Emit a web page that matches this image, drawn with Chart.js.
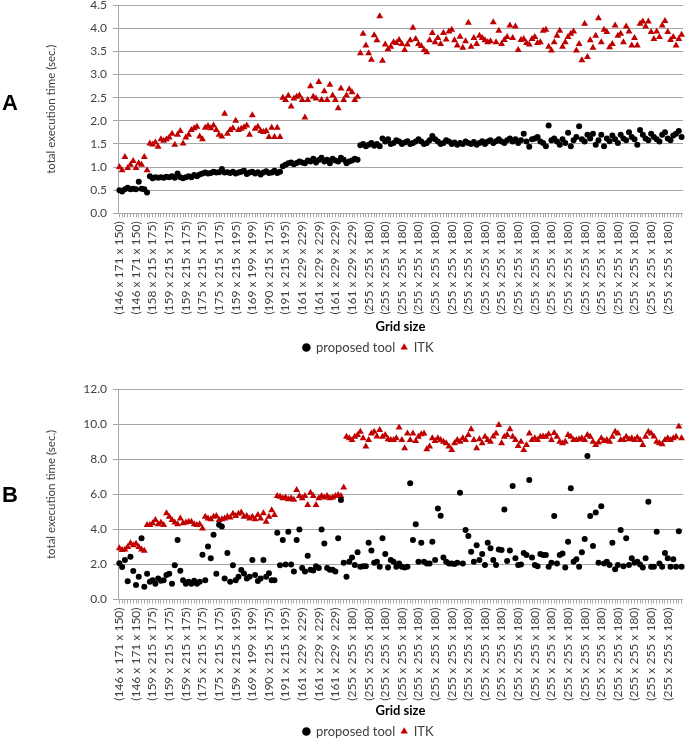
<!DOCTYPE html>
<html><head><meta charset="utf-8">
<script src="https://cdn.jsdelivr.net/npm/chart.js@4.4.1/dist/chart.umd.min.js"></script>
<style>
html,body{margin:0;padding:0;background:#fff;}
#wrap{position:relative;width:685px;height:739px;overflow:hidden;background:#fff;}
canvas{position:absolute;left:0;}
.panel{position:absolute;left:2px;font-family:"Liberation Sans",Arial,sans-serif;font-weight:bold;font-size:22px;line-height:22px;color:#000;z-index:2;}
</style></head><body>
<div id="wrap">
<canvas id="cA" width="700" height="376" style="top:-8px;width:700px;height:376px"></canvas>
<canvas id="cB" width="700" height="382" style="top:370px;width:700px;height:382px"></canvas>
<div class="panel" style="top:92px">A</div>
<div class="panel" style="top:484px">B</div>
</div>
<script>
// Tick labels (one label per group of 6 categories)
const gridLabelsA = [
 "(146 x 171 x 150)","(146 x 171 x 150)","(158 x 215 x 175)","(159 x 215 x 175)","(159 x 215 x 175)",
 "(175 x 215 x 175)","(175 x 215 x 175)","(159 x 215 x 195)","(169 x 199 x 199)","(190 x 215 x 175)",
 "(191 x 215 x 195)","(161 x 229 x 229)","(161 x 229 x 229)","(161 x 229 x 229)","(161 x 229 x 229)",
 "(255 x 255 x 180)","(255 x 255 x 180)","(255 x 255 x 180)","(255 x 255 x 180)","(255 x 255 x 180)",
 "(255 x 255 x 180)","(255 x 255 x 180)","(255 x 255 x 180)","(255 x 255 x 180)","(255 x 255 x 180)",
 "(255 x 255 x 180)","(255 x 255 x 180)","(255 x 255 x 180)","(255 x 255 x 180)","(255 x 255 x 180)",
 "(255 x 255 x 180)","(255 x 255 x 180)","(255 x 255 x 180)","(255 x 255 x 180)"
];
const gridLabelsB = [
 "(146 x 171 x 150)","(146 x 171 x 150)","(159 x 215 x 175)","(159 x 215 x 175)","(159 x 215 x 175)",
 "(175 x 215 x 175)","(175 x 215 x 175)","(159 x 215 x 195)","(169 x 199 x 199)","(190 x 215 x 175)",
 "(191 x 215 x 195)","(161 x 229 x 229)","(161 x 229 x 229)","(161 x 229 x 229)",
 "(255 x 255 x 180)","(255 x 255 x 180)","(255 x 255 x 180)","(255 x 255 x 180)","(255 x 255 x 180)",
 "(255 x 255 x 180)","(255 x 255 x 180)","(255 x 255 x 180)","(255 x 255 x 180)","(255 x 255 x 180)",
 "(255 x 255 x 180)","(255 x 255 x 180)","(255 x 255 x 180)","(255 x 255 x 180)","(255 x 255 x 180)",
 "(255 x 255 x 180)","(255 x 255 x 180)","(255 x 255 x 180)","(255 x 255 x 180)","(255 x 255 x 180)"
];
const labelEvery = 6;

// Panel A – proposed tool (sec.)
const proposedA = [
 0.50,0.47,0.52,0.55,0.52,0.53,0.52,0.68,0.53,0.52,0.45,
 0.80,0.76,0.78,0.77,0.78,0.77,0.79,0.78,0.80,0.77,0.86,0.78,0.76,0.78,0.80,0.78,0.83,0.80,0.84,0.86,
 0.88,0.86,0.87,0.90,0.88,0.89,0.96,0.88,0.89,0.87,0.90,0.86,0.88,0.90,0.92,0.85,0.88,0.90,0.86,0.89,
 0.84,0.88,0.91,0.87,0.88,0.92,0.87,0.90,
 1.02,1.05,1.08,1.10,1.06,1.09,1.12,1.10,1.08,1.14,1.12,1.18,1.10,1.15,1.20,1.12,1.16,1.08,1.18,1.14,
 1.12,1.20,1.16,1.08,1.12,1.14,1.18,1.16,
 1.47,1.50,1.45,1.48,1.52,1.46,1.50,1.45,1.62,1.55,1.60,1.50,1.52,1.58,1.55,1.50,1.53,1.56,1.50,1.52,
 1.55,1.60,1.55,1.50,1.52,1.58,1.67,1.60,1.55,1.50,1.52,1.58,1.55,1.50,1.53,1.48,1.52,1.50,1.55,1.52,
 1.50,1.54,1.48,1.52,1.56,1.50,1.55,1.58,1.52,1.56,1.60,1.55,1.52,1.58,1.62,1.55,1.60,1.52,1.58,1.72,
 1.55,1.44,1.60,1.62,1.65,1.55,1.52,1.45,1.90,1.58,1.62,1.55,1.48,1.60,1.52,1.74,1.45,1.58,1.65,1.88,
 1.60,1.55,1.70,1.62,1.72,1.48,1.58,1.70,1.45,1.62,1.56,1.68,1.60,1.52,1.70,1.62,1.58,1.75,1.65,1.60,
 1.48,1.80,1.70,1.62,1.58,1.72,1.65,1.60,1.55,1.70,1.75,1.62,1.58,1.68,1.72,1.78,1.65
];
// Panel A – ITK (sec.)
const itkA = [
 1.00,0.93,1.22,0.98,1.05,1.13,0.98,1.08,1.05,1.22,0.93,
 1.51,1.49,1.53,1.44,1.60,1.57,1.60,1.64,1.72,1.48,1.70,1.78,1.51,1.64,1.70,1.80,1.84,1.87,1.66,1.60,
 1.85,1.89,1.84,1.90,1.80,1.70,1.66,2.15,1.72,1.80,1.84,2.00,1.80,1.83,1.86,1.90,1.70,2.12,1.83,1.87,
 1.78,1.76,1.78,1.65,1.85,1.65,1.85,1.65,
 2.50,2.45,2.54,2.31,2.48,2.52,2.55,2.45,2.07,2.45,2.75,2.52,2.48,2.84,2.45,2.64,2.45,2.78,2.55,2.45,
 2.27,2.70,2.45,2.55,2.68,2.62,2.45,2.52,
 3.46,3.88,3.63,3.46,3.32,3.85,3.74,4.26,3.30,3.65,3.55,3.60,3.70,3.68,3.75,3.66,3.53,3.65,3.74,4.01,
 3.77,3.66,3.62,3.53,3.48,3.74,3.90,3.70,3.79,3.66,3.90,3.76,3.93,3.97,3.74,3.63,3.82,3.58,3.72,4.12,
 3.60,3.79,3.66,3.84,3.79,3.74,3.70,3.72,4.13,3.70,3.95,3.66,3.75,3.81,4.06,3.79,4.04,3.53,3.75,3.77,
 3.68,3.65,3.77,3.81,3.68,3.70,3.95,3.97,3.60,3.52,3.70,3.84,3.95,3.60,3.70,3.81,3.88,3.93,3.52,3.66,
 3.31,4.10,3.38,3.74,3.58,3.84,4.22,3.70,3.97,3.92,3.59,3.66,4.06,3.84,3.88,3.70,4.04,3.93,3.63,3.79,
 3.63,4.10,4.15,4.04,4.15,3.92,3.77,3.93,3.81,4.06,4.16,3.92,3.75,3.81,3.63,3.77,3.86
];
// Panel B – proposed tool (sec.)
const proposedB = [
 2.07,1.85,2.25,1.04,2.44,1.63,0.83,1.30,3.49,0.73,
 1.47,1.02,1.10,0.90,1.20,1.07,1.10,1.40,1.47,0.90,1.96,3.39,1.64,1.10,0.90,1.02,0.90,1.07,0.90,1.02,
 2.55,1.10,3.03,2.36,3.70,1.47,4.27,4.17,1.20,2.65,1.02,1.96,1.10,1.30,1.68,1.49,1.20,1.30,2.25,1.40,
 1.05,1.20,2.25,1.30,1.50,1.10,1.10,
 3.81,1.95,3.40,2.00,3.87,2.00,1.60,3.40,4.00,1.80,1.60,2.50,1.70,1.65,1.90,1.80,4.00,3.20,1.80,1.70,
 1.70,1.60,3.50,5.68,2.10,
 1.30,2.16,2.40,1.97,2.70,1.87,1.90,1.90,3.24,2.80,2.10,2.16,1.87,3.50,2.60,1.83,2.25,2.16,1.87,2.06,
 1.87,1.83,1.87,6.63,3.40,4.30,2.16,3.24,2.16,2.06,2.06,3.30,2.25,5.20,4.78,2.40,2.16,2.06,2.06,2.03,
 2.10,6.10,2.06,3.97,3.62,2.73,2.16,3.10,2.25,2.60,1.97,3.24,2.92,2.25,1.97,2.85,2.82,5.14,2.20,2.80,
 6.48,2.35,1.97,2.00,2.65,2.54,6.82,2.40,1.97,1.90,2.60,2.54,2.54,1.87,2.10,4.77,2.06,2.54,2.63,1.83,
 3.30,6.35,2.16,2.30,1.87,2.70,3.46,8.19,4.77,3.05,4.96,2.10,5.33,2.06,2.16,1.97,3.24,1.73,1.97,3.97,
 1.90,3.50,1.97,2.35,2.10,2.16,2.00,1.83,2.35,5.58,1.87,1.87,3.87,2.06,1.87,2.65,2.35,1.87,2.30,1.87,
 3.90,1.87
];
// Panel B – ITK (sec.)
const itkB = [
 2.92,2.83,2.85,3.00,3.21,3.10,3.18,3.00,2.85,2.78,
 4.25,4.25,4.35,4.54,4.30,4.40,4.25,4.92,4.73,4.54,4.40,4.30,4.63,4.35,4.40,4.44,4.44,4.30,4.25,4.30,
 4.06,4.73,4.63,4.58,4.73,4.77,4.54,4.58,4.63,4.73,4.68,4.90,4.77,4.90,4.97,4.73,4.77,4.63,4.73,4.58,
 4.82,4.63,4.92,4.44,4.73,5.10,4.82,
 5.91,5.87,5.78,5.82,5.73,5.78,5.69,6.25,5.91,5.78,5.91,5.39,6.10,5.91,5.39,5.78,5.91,5.82,5.91,5.78,
 5.82,5.91,5.96,5.91,6.40,
 9.29,9.20,9.10,9.29,9.39,9.58,9.20,8.73,9.10,9.48,9.58,9.30,9.67,9.29,9.39,9.15,9.10,9.10,9.20,9.82,
 9.10,8.63,9.48,9.10,9.48,9.05,9.29,9.44,9.48,8.58,8.73,9.20,9.05,9.20,9.10,9.01,8.92,8.73,8.54,8.92,
 9.10,9.01,9.20,9.10,9.39,9.72,9.10,8.63,9.15,8.92,9.29,9.10,9.01,9.30,9.48,9.96,8.92,9.29,9.39,9.72,
 9.29,9.10,8.77,9.01,8.54,8.82,9.48,9.10,9.20,9.10,9.29,9.30,9.29,9.44,9.10,9.50,9.29,9.01,8.92,9.01,
 9.39,9.29,9.10,9.10,9.15,9.20,9.10,9.39,9.29,9.01,8.82,8.96,9.20,9.05,9.10,9.01,9.29,9.58,9.48,9.10,
 9.10,9.29,9.15,9.20,9.10,9.25,9.10,8.82,9.29,9.58,9.48,9.30,9.01,8.92,8.87,9.10,9.20,9.10,9.20,9.29,
 9.87,9.20
];

const FONT = 'Lato, "Open Sans", sans-serif';
const TXT = '#404040';
const GRID = '#A6A6A6';

function makeChart(id, gridLabels, proposed, itk, yMax, yStep, cfg) {
  const categories = proposed.map((_, i) => gridLabels[Math.floor(i / labelEvery)]);
  return new Chart(document.getElementById(id), {
    type: 'line',
    data: {
      labels: categories,
      datasets: [
        { label: 'proposed tool', data: proposed, showLine: false, pointStyle: 'circle',
          pointRadius: 3, pointBackgroundColor: '#000', pointBorderColor: '#000', pointBorderWidth: 0,
          backgroundColor: '#000', borderColor: '#000', borderWidth: 0 },
        { label: 'ITK', data: itk, showLine: false, pointStyle: 'triangle',
          pointRadius: 4, pointBackgroundColor: '#C00000', pointBorderColor: '#C00000', pointBorderWidth: 0,
          backgroundColor: '#C00000', borderColor: '#C00000', borderWidth: 0 }
      ]
    },
    options: {
      responsive: false, animation: false, devicePixelRatio: 1,
      layout: { autoPadding: false, padding: { top: cfg.top, right: 2, left: 39, bottom: 4 } },
      plugins: {
        tooltip: { enabled: false },
        legend: {
          position: 'bottom',
          labels: { usePointStyle: true, boxWidth: 6, boxHeight: 6, padding: 6,
                    color: TXT, font: { family: FONT, size: 13 } }
        }
      },
      scales: {
        x: {
          type: 'category', offset: true,
          afterFit: s => { s.height = cfg.xh; },
          border: { display: true, color: GRID, width: 1 },
          grid: { display: true, drawOnChartArea: false, drawTicks: true, tickLength: 4, color: GRID, offset: false },
          ticks: {
            autoSkip: false, minRotation: 90, maxRotation: 90, padding: 4, color: TXT,
            font: { family: FONT, size: 12 },
            callback: function (v, i) { return i % labelEvery === 0 ? this.getLabelForValue(v) : ''; }
          },
          title: { display: true, text: 'Grid size', color: '#000', padding: { top: 0, bottom: 0 },
                   font: { family: FONT, size: 13, weight: 'bold' } }
        },
        y: {
          min: 0, max: yMax,
          afterFit: s => { s.width = 79; },
          border: { display: true, color: GRID, width: 1 },
          grid: { color: GRID, lineWidth: 1, drawTicks: true, tickLength: 5 },
          ticks: { stepSize: yStep, padding: 6, color: TXT, font: { family: FONT, size: 12 },
                   callback: v => v.toFixed(1) },
          title: { display: true, text: 'total execution time (sec.)', color: TXT,
                   padding: { top: 5, bottom: 0 }, font: { family: FONT, size: 11.5 } }
        }
      }
    }
  });
}

makeChart('cA', gridLabelsA, proposedA, itkA, 4.5, 0.5, { top: 4.7, xh: 121.7 });
makeChart('cB', gridLabelsB, proposedB, itkB, 12, 2, { top: 19.3, xh: 119.5 });
</script>
</body></html>
